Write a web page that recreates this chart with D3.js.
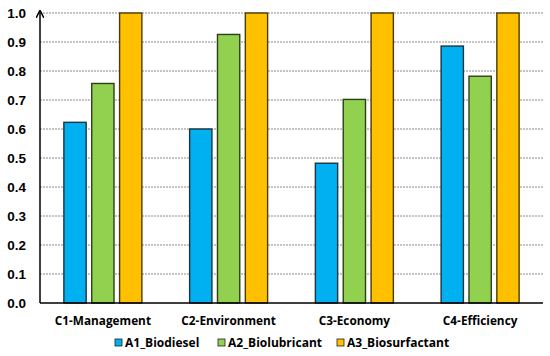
<!DOCTYPE html>
<html>
<head>
<meta charset="utf-8">
<script src="https://cdn.jsdelivr.net/npm/d3@7"></script>
<style>
  body { margin: 0; background: #fff; }
</style>
</head>
<body>
<div id="chart"></div>
<script>
// chart data
var categories = ["C1-Management", "C2-Environment", "C3-Economy", "C4-Efficiency"];
var seriesNames = ["A1_Biodiesel", "A2_Biolubricant", "A3_Biosurfactant"];
var a1Biodiesel = [0.623, 0.600, 0.482, 0.886];
var a2Biolubricant = [0.757, 0.926, 0.702, 0.782];
var a3Biosurfactant = [1.0, 1.0, 1.0, 1.0];
var yTicks = [0.0, 0.1, 0.2, 0.3, 0.4, 0.5, 0.6, 0.7, 0.8, 0.9, 1.0];

var colors = ["#00B0F0", "#92D050", "#FFC000"];
var strokes = ["#1a3440", "#2a401a", "#4a3c0a"];

var series = [a1Biodiesel, a2Biolubricant, a3Biosurfactant];

var W = 550, H = 356;
var margin = {top: 13, right: 7, bottom: 53, left: 40},
    width = W - margin.left - margin.right,
    height = H - margin.top - margin.bottom;

var svg = d3.select("#chart")
    .append("svg")
    .attr("width", W)
    .attr("height", H)
    .append("g")
    .attr("transform", "translate(" + margin.left + "," + margin.top + ")");

var x0 = d3.scaleBand()
    .domain(categories)
    .range([0, width])
    .padding(0);

var x1 = d3.scaleBand()
    .domain(seriesNames)
    .range([0, 78])
    .paddingInner(0.2);

var y = d3.scaleLinear()
    .domain([0, 1])
    .range([height, 0]);

// dotted grid lines
svg.append("g")
    .selectAll("line")
    .data(yTicks.slice(1))
    .enter().append("line")
    .attr("x1", 0)
    .attr("x2", width)
    .attr("y1", d => y(d))
    .attr("y2", d => y(d))
    .attr("stroke", "#8a8a8a")
    .attr("stroke-width", 1)
    .attr("stroke-dasharray", "2,1");

// y tick labels
var yAxis = svg.append("g")
    .call(d3.axisLeft(y).tickValues(yTicks).tickFormat(d3.format(".1f")).tickSize(0).tickPadding(14));
yAxis.select(".domain").remove();
yAxis.selectAll("text")
    .attr("font-family", "'Liberation Sans', Arial, sans-serif")
    .attr("font-weight", "bold")
    .attr("font-size", "13.5px")
    .attr("fill", "#000");

// bars
var groups = svg.append("g")
    .selectAll("g")
    .data(categories)
    .enter().append("g")
    .attr("transform", d => "translate(" + (x0(d) + (x0.bandwidth() - 78) / 2) + ",0)");

groups.selectAll("rect")
    .data((d, i) => seriesNames.map((s, j) => ({key: s, j: j, value: series[j][i]})))
    .enter().append("rect")
    .attr("x", d => x1(d.key))
    .attr("y", d => y(d.value))
    .attr("width", x1.bandwidth())
    .attr("height", d => height - y(d.value))
    .attr("fill", d => colors[d.j])
    .attr("stroke", d => strokes[d.j])
    .attr("stroke-width", 1.4);

// baseline
svg.append("line")
    .attr("x1", 0).attr("x2", width)
    .attr("y1", height).attr("y2", height)
    .attr("stroke", "#000").attr("stroke-width", 1.5);

// y axis with arrow
svg.append("defs").append("marker")
    .attr("id", "arrow")
    .attr("viewBox", "0 0 10 10")
    .attr("refX", 9).attr("refY", 5)
    .attr("markerWidth", 5).attr("markerHeight", 5)
    .attr("orient", "auto")
    .append("path")
    .attr("d", "M0,0 L10,5 L0,10")
    .attr("fill", "none")
    .attr("stroke", "#000")
    .attr("stroke-width", 2);

svg.append("line")
    .attr("x1", 0).attr("x2", 0)
    .attr("y1", height).attr("y2", -2)
    .attr("stroke", "#000").attr("stroke-width", 1.5)
    .attr("marker-end", "url(#arrow)");

// category labels
svg.append("g")
    .selectAll("text")
    .data(categories)
    .enter().append("text")
    .attr("x", d => x0(d) + x0.bandwidth() / 2)
    .attr("y", height + 22)
    .attr("text-anchor", "middle")
    .attr("font-family", "'Open Sans', sans-serif")
    .attr("font-weight", "bold")
    .attr("font-size", "11.8px")
    .attr("fill", "#000")
    .text(d => d);

// legend
var legendX = [75, 178, 297];
var legend = svg.append("g")
    .attr("transform", "translate(0," + (height + 44) + ")");

var item = legend.selectAll("g")
    .data(seriesNames)
    .enter().append("g")
    .attr("transform", (d, i) => "translate(" + legendX[i] + ",0)");

item.append("rect")
    .attr("x", 0).attr("y", -8)
    .attr("width", 7).attr("height", 7)
    .attr("fill", (d, i) => colors[i])
    .attr("stroke", "#222")
    .attr("stroke-width", 0.8);

item.append("text")
    .attr("x", 10)
    .attr("y", 0)
    .attr("font-family", "'Open Sans', sans-serif")
    .attr("font-weight", "bold")
    .attr("font-size", "12px")
    .attr("fill", "#000")
    .text(d => d);
</script>
</body>
</html>
